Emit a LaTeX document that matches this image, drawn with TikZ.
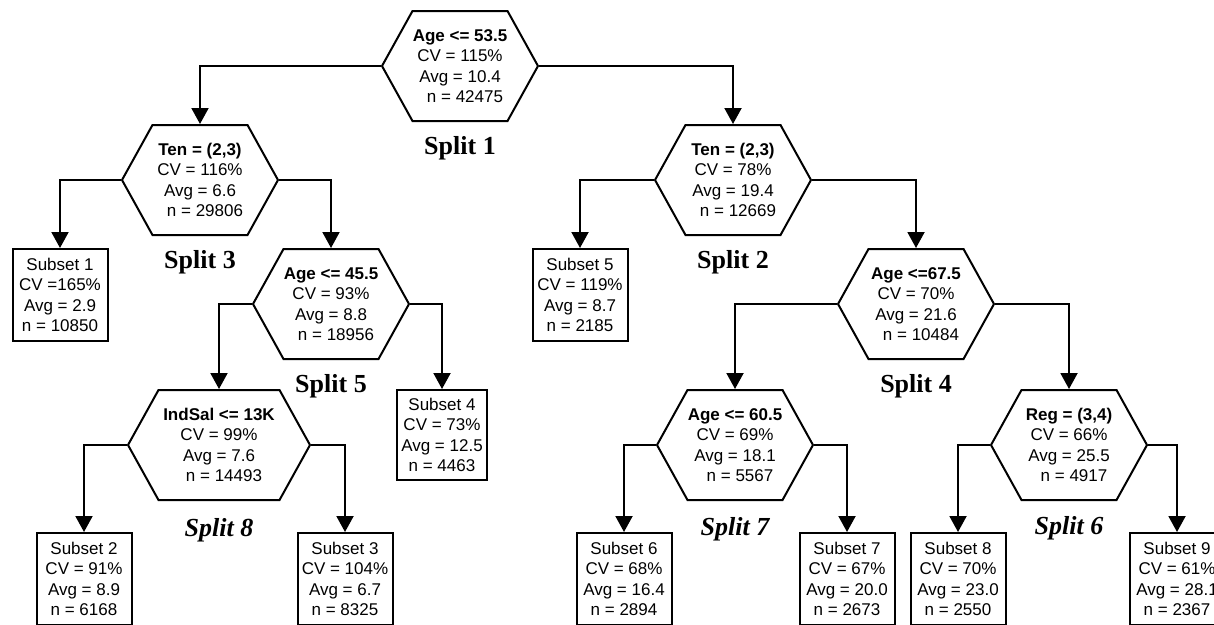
\documentclass[tikz,border=0pt]{standalone}
\usepackage{fontspec}
\setmainfont{Liberation Sans}
\newfontfamily\splitfont{Liberation Serif}
\usetikzlibrary{positioning,arrows.meta,shapes.symbols}

\begin{document}
\begin{tikzpicture}[
    x=1pt, y=-1pt,
    hexnode/.style={signal, signal to=east and west, signal from=nowhere, signal pointer angle=122,
        draw, line width=2pt, minimum width=156pt, minimum height=110pt, inner sep=0pt,
        align=center, font=\fontsize{17}{20.5}\selectfont},
    subset/.style={rectangle, draw, line width=2pt, minimum width=95pt, minimum height=92pt,
        inner sep=0pt, align=center, font=\fontsize{17}{20.5}\selectfont},
    splitname/.style={inner sep=2pt, font=\splitfont\bfseries\fontsize{26}{28}\selectfont},
    branch/.style={draw, line width=2pt, -{Triangle[length=16pt,width=17pt]}}
]
\clip (0,0) rectangle (1214,624);

% Define node positions
\node[hexnode] (s1) at (460,66) {\textbf{Age <= 53.5}\\CV = 115\%\\Avg = 10.4\\\hspace*{10pt}n = 42475};
\node[hexnode] (s3) at (200,180) {\textbf{Ten = (2,3)}\\CV = 116\%\\Avg = 6.6\\\hspace*{10pt}n = 29806};
\node[hexnode] (s2) at (733,180) {\textbf{Ten = (2,3)}\\CV = 78\%\\Avg = 19.4\\\hspace*{10pt}n = 12669};
\node[hexnode] (s5) at (331,304) {\textbf{Age <= 45.5}\\CV = 93\%\\Avg = 8.8\\\hspace*{10pt}n = 18956};
\node[hexnode] (s4) at (916,304) {\textbf{Age <=67.5}\\CV = 70\%\\Avg = 21.6\\\hspace*{10pt}n = 10484};
\node[hexnode, minimum width=182pt] (s8) at (219,445) {\textbf{IndSal <= 13K}\\CV = 99\%\\Avg = 7.6\\\hspace*{10pt}n = 14493};
\node[hexnode] (s7) at (735,445) {\textbf{Age <= 60.5}\\CV = 69\%\\Avg = 18.1\\\hspace*{10pt}n = 5567};
\node[hexnode] (s6) at (1069,445) {\textbf{Reg = (3,4)}\\CV = 66\%\\Avg = 25.5\\\hspace*{10pt}n = 4917};

% Subsets at the leaves
\node[subset] (sub1) at (60,295) {Subset 1\\CV =165\%\\Avg = 2.9\\n = 10850};
\node[subset] (sub5) at (580,295) {Subset 5\\CV = 119\%\\Avg = 8.7\\n = 2185};
\node[subset, minimum width=90pt, minimum height=90pt] (sub4) at (442,435) {Subset 4\\CV = 73\%\\Avg = 12.5\\n = 4463};
\node[subset] (sub2) at (84,579) {Subset 2\\CV = 91\%\\Avg = 8.9\\n = 6168};
\node[subset] (sub3) at (345,579) {Subset 3\\CV = 104\%\\Avg = 6.7\\n = 8325};
\node[subset] (sub6) at (624,579) {Subset 6\\CV = 68\%\\Avg = 16.4\\n = 2894};
\node[subset] (sub7) at (847,579) {Subset 7\\CV = 67\%\\Avg = 20.0\\n = 2673};
\node[subset] (sub8) at (958,579) {Subset 8\\CV = 70\%\\Avg = 23.0\\n = 2550};
\node[subset] (sub9) at (1177,579) {Subset 9\\CV = 61\%\\Avg = 28.1\\n = 2367};

% Split names below the hexagons
\node[splitname, below=12pt of s1] {Split 1};
\node[splitname, below=12pt of s3] {Split 3};
\node[splitname, below=12pt of s2] {Split 2};
\node[splitname, below=12pt of s5] {Split 5};
\node[splitname, below=12pt of s4] {Split 4};
\node[splitname, below=15pt of s8] {\itshape Split 8};
\node[splitname, below=14pt of s7] {\itshape Split 7};
\node[splitname, below=13pt of s6] {\itshape Split 6};

% Draw branches
\draw[branch] (s1.west) -| (s3.north);
\draw[branch] (s1.east) -| (s2.north);
\draw[branch] (s3.west) -| (sub1.north);
\draw[branch] (s3.east) -| (s5.north);
\draw[branch] (s5.west) -| (s8.north);
\draw[branch] (s5.east) -| (sub4.north);
\draw[branch] (s8.west) -| (sub2.north);
\draw[branch] (s8.east) -| (sub3.north);
\draw[branch] (s2.west) -| (sub5.north);
\draw[branch] (s2.east) -| (s4.north);
\draw[branch] (s4.west) -| (s7.north);
\draw[branch] (s4.east) -| (s6.north);
\draw[branch] (s7.west) -| (sub6.north);
\draw[branch] (s7.east) -| (sub7.north);
\draw[branch] (s6.west) -| (sub8.north);
\draw[branch] (s6.east) -| (sub9.north);

\end{tikzpicture}
\end{document}
